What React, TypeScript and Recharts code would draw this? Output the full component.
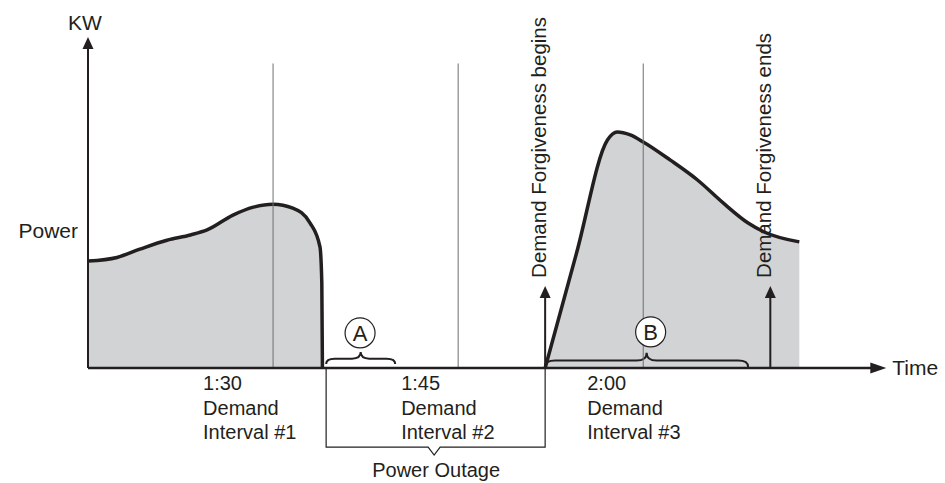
import React from 'react';
import {
  ComposedChart, Area, XAxis, YAxis, ReferenceLine, ReferenceDot, ReferenceArea
} from 'recharts';

// time in minutes (1:30 = 90), power in relative kW (0..100)
const TIME = [
  75, 77.35, 79.2, 81.4, 83.3, 84.65, 86.75, 88.4, 90, 91.6, 93.0, 93.8, 93.95, 94.0,
  103,
  112.05, 114.6, 117.1, 117.9, 118.95, 120, 122.2, 124.4, 126.5, 128.5, 129.8, 132.65,
];
const POWER = [
  32.3, 33.4, 35.9, 38.6, 40.2, 41.7, 46.2, 48.6, 49.5, 48.3, 43.8, 36.6, 25.7, 0,
  null,
  0, 34.8, 68.9, 71.3, 70.4, 68.3, 62.8, 56.8, 49.8, 43.8, 41.1, 38.1,
];

const INTERVAL_TICKS = [90, 105, 120];
const INTERVAL_TIMES = ['1:30', '1:45', '2:00'];
const INTERVAL_NAMES = ['Interval #1', 'Interval #2', 'Interval #3'];

const OUTAGE = [94.3, 112.05];
const FORGIVENESS = [112.05, 130.3];
const BRACE_A = [94.3, 99.9];
const BRACE_B = [112.05, 128.5];

const data = TIME.map((t, i) => ({ t, power: POWER[i] }));

const INK = '#231f20';
const FONT = '"Liberation Sans", Arial, sans-serif';
// label shifts left of each interval line
const TICK_SHIFT = [-70, -57, -56];

const IntervalTick = (props: any) => {
  const { x, y, payload } = props;
  const i = INTERVAL_TICKS.indexOf(payload.value);
  const lx = x + TICK_SHIFT[i];
  return (
    <text x={lx} y={y} fontSize={20} fill={INK} fontFamily={FONT}>
      <tspan x={lx} dy={22}>{INTERVAL_TIMES[i]}</tspan>
      <tspan x={lx} dy={24.5}>Demand</tspan>
      <tspan x={lx} dy={24.5}>{INTERVAL_NAMES[i]}</tspan>
    </text>
  );
};

const UpArrow = (label?: string, rotated?: boolean) => (props: any) => {
  const { cx, cy } = props;
  return (
    <g>
      <polygon points={`${cx},${cy} ${cx - 5.5},${cy + 12} ${cx + 5.5},${cy + 12}`} fill={INK} />
      {label && !rotated && (
        <text x={cx - 3} y={cy - 7} textAnchor="middle" fontSize={21} fill={INK} fontFamily={FONT}>{label}</text>
      )}
      {label && rotated && (
        <text x={cx + 1} y={cy - 8} transform={`rotate(-90 ${cx + 1} ${cy - 8})`}
          fontSize={20.5} fill={INK} fontFamily={FONT}>{label}</text>
      )}
    </g>
  );
};

const RightArrow = (props: any) => {
  const { cx, cy } = props;
  return (
    <g>
      <polygon points={`${cx},${cy} ${cx - 16},${cy - 5.5} ${cx - 16},${cy + 5.5}`} fill={INK} />
      <text x={cx + 6} y={cy} dy="0.35em" fontSize={21} fill={INK} fontFamily={FONT}>Time</text>
    </g>
  );
};

const Brace = (props: any) => {
  const { x, y, width, height } = props;
  const bottom = y + height;
  const mid = y + height * 0.55;
  const cx = x + width / 2;
  const q = Math.min(10, width / 8);
  const d = `M${x},${bottom} Q${x},${mid} ${x + q},${mid} L${cx - q},${mid} Q${cx},${mid} ${cx},${y}`
    + ` Q${cx},${mid} ${cx + q},${mid} L${x + width - q},${mid} Q${x + width},${mid} ${x + width},${bottom}`;
  return <path d={d} fill="none" stroke={INK} strokeWidth={2} />;
};

const OutageBracket = (props: any) => {
  const { x, y, width, height } = props;
  const b = y + height;
  const cx = x + width / 2 - 1.5;
  return (
    <g>
      <path
        d={`M${x},${y} V${b} H${cx - 6} L${cx},${b + 8} L${cx + 6},${b} H${x + width} V${y}`}
        fill="none" stroke={INK} strokeWidth={1.2}
      />
      <text x={cx + 2} y={b + 30} textAnchor="middle" fontSize={20} fill={INK} fontFamily={FONT}>
        Power Outage
      </text>
    </g>
  );
};

export default function App() {
  return (
    <div style={{ position: 'absolute', left: 0, top: 0, fontFamily: FONT }}>
      <ComposedChart
        width={945}
        height={483}
        data={data}
        margin={{ top: 37, right: 55, left: 0, bottom: 35 }}
      >
        <XAxis
          dataKey="t"
          type="number"
          domain={[75, 140]}
          ticks={INTERVAL_TICKS}
          tick={<IntervalTick />}
          axisLine={false}
          tickLine={false}
          tickSize={0}
          tickMargin={0}
          height={80}
          allowDataOverflow
        />
        <YAxis
          type="number"
          domain={[0, 100]}
          ticks={[41.4]}
          tickFormatter={() => 'Power'}
          tick={{ fill: INK, fontSize: 21, fontFamily: FONT }}
          axisLine={false}
          tickLine={false}
          tickSize={0}
          tickMargin={10}
          width={88}
        />

        <Area
          dataKey="power"
          type="monotone"
          stroke={INK}
          strokeWidth={3.5}
          fill="#d1d3d4"
          fillOpacity={1}
          connectNulls={false}
          dot={false}
          activeDot={false}
          isAnimationActive={false}
        />

        {INTERVAL_TICKS.map((t) => (
          <ReferenceLine key={t} segment={[{ x: t, y: 0 }, { x: t, y: 92 }]} stroke="#6d6e71" strokeWidth={1} />
        ))}

        {/* axes */}
        <ReferenceLine segment={[{ x: 75, y: 0 }, { x: 75, y: 97 }]} stroke={INK} strokeWidth={2} />
        <ReferenceLine segment={[{ x: 75, y: 0 }, { x: 139, y: 0 }]} stroke={INK} strokeWidth={2.6} />
        <ReferenceDot x={75} y={100} r={0} ifOverflow="visible" shape={UpArrow('KW')} />
        <ReferenceDot x={139.7} y={0} r={0} ifOverflow="visible" shape={RightArrow} />

        {/* demand forgiveness markers */}
        <ReferenceLine segment={[{ x: FORGIVENESS[0], y: 0 }, { x: FORGIVENESS[0], y: 22 }]} stroke={INK} strokeWidth={2} />
        <ReferenceLine segment={[{ x: FORGIVENESS[1], y: 0 }, { x: FORGIVENESS[1], y: 22 }]} stroke={INK} strokeWidth={2} />
        <ReferenceDot x={FORGIVENESS[0]} y={24.8} r={0} ifOverflow="visible" shape={UpArrow('Demand Forgiveness begins', true)} />
        <ReferenceDot x={FORGIVENESS[1]} y={24.8} r={0} ifOverflow="visible" shape={UpArrow('Demand Forgiveness ends', true)} />

        {/* power outage bracket */}
        <ReferenceArea x1={OUTAGE[0]} x2={OUTAGE[1]} y1={-23.9} y2={0} ifOverflow="visible" shape={OutageBracket} />

        {/* braces A and B */}
        <ReferenceArea x1={BRACE_A[0]} x2={BRACE_A[1]} y1={1.2} y2={4.8} ifOverflow="visible" shape={Brace} />
        <ReferenceArea x1={BRACE_B[0]} x2={BRACE_B[1]} y1={0.3} y2={4.6} ifOverflow="visible" shape={Brace} />
        <ReferenceDot x={97.05} y={10.6} r={15} fill="#fff" stroke={INK} strokeWidth={1.2}
          label={{ value: 'A', position: 'center', fontSize: 22, fill: INK }} />
        <ReferenceDot x={120.6} y={10.9} r={15} fill="#fff" stroke={INK} strokeWidth={1.2}
          label={{ value: 'B', position: 'center', fontSize: 22, fill: INK }} />
      </ComposedChart>
    </div>
  );
}
